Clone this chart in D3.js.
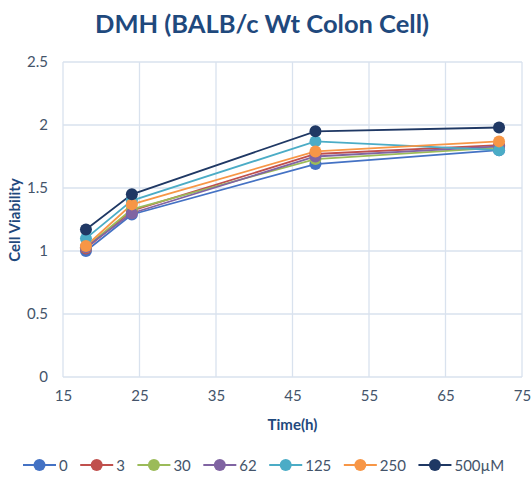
<!DOCTYPE html>
<html>
<head>
<meta charset="utf-8">
<script src="https://cdn.jsdelivr.net/npm/d3@7"></script>
<style>
  body { margin: 0; background: #fff; }
  svg { font-family: Lato, "Open Sans", sans-serif; }
</style>
</head>
<body>
<svg id="chart" width="531" height="485"></svg>
<script>
const times = [18, 24, 48, 72];
const seriesNames = ["0", "3", "30", "62", "125", "250", "500µM"];
const v0 = [1.00, 1.29, 1.69, 1.80];
const v3 = [1.02, 1.32, 1.77, 1.84];
const v30 = [1.03, 1.33, 1.73, 1.82];
const v62 = [1.03, 1.30, 1.75, 1.83];
const v125 = [1.10, 1.40, 1.87, 1.80];
const v250 = [1.04, 1.37, 1.79, 1.87];
const v500 = [1.17, 1.45, 1.95, 1.98];
const xTicks = [15, 25, 35, 45, 55, 65, 75];
const yTicks = [0, 0.5, 1, 1.5, 2, 2.5];
const colors = ["#4472C4", "#C0504D", "#9BBB59", "#8064A2", "#4BACC6", "#F79646", "#1F3864"];

const allValues = [v0, v3, v30, v62, v125, v250, v500];
const series = seriesNames.map((n, i) => ({
    name: n,
    color: colors[i],
    pts: times.map((t, j) => [t, allValues[i][j]])
}));

const svg = d3.select("#chart");
const pLeft = 63, pRight = 522, pTop = 62, pBottom = 377;

const x = d3.scaleLinear().domain([15, 75]).range([pLeft, pRight]);
const y = d3.scaleLinear().domain([0, 2.5]).range([pBottom, pTop]);

const textCol = "#44546A";
const navy = "#1F497D";

// title
svg.append("text")
    .attr("x", 262).attr("y", 33)
    .attr("text-anchor", "middle")
    .attr("font-size", 25.5).attr("font-weight", "bold")
    .attr("fill", navy)
    .text("DMH (BALB/c Wt Colon Cell)");

// grid
svg.append("g").selectAll("line").data(xTicks).join("line")
    .attr("x1", d => x(d)).attr("x2", d => x(d))
    .attr("y1", pTop).attr("y2", pBottom)
    .attr("stroke", "#D9E2EE").attr("stroke-width", 1.3);
svg.append("g").selectAll("line").data(yTicks).join("line")
    .attr("x1", pLeft).attr("x2", pRight)
    .attr("y1", d => y(d)).attr("y2", d => y(d))
    .attr("stroke", "#D9E2EE").attr("stroke-width", 1.3);

// axes labels
const xAxis = d3.axisBottom(x).tickValues(xTicks).tickSize(0).tickPadding(13);
const gx = svg.append("g").attr("transform", `translate(0,${pBottom})`).call(xAxis);
gx.select(".domain").remove();
gx.selectAll("text").attr("font-size", 15).attr("fill", textCol).attr("font-family", "Lato");

const yAxis = d3.axisLeft(y).tickValues(yTicks).tickSize(0).tickPadding(15).tickFormat(d3.format("~g"));
const gy = svg.append("g").attr("transform", `translate(${pLeft},0)`).call(yAxis);
gy.select(".domain").remove();
gy.selectAll("text").attr("font-size", 15).attr("fill", textCol).attr("font-family", "Lato");

svg.append("text")
    .attr("x", x(45)).attr("y", 430)
    .attr("text-anchor", "middle")
    .attr("font-size", 15).attr("font-weight", "bold").attr("fill", navy)
    .text("Time(h)");

svg.append("text")
    .attr("transform", `translate(20,220) rotate(-90)`)
    .attr("text-anchor", "middle")
    .attr("font-size", 15).attr("font-weight", "bold").attr("fill", navy)
    .text("Cell Viability");

// lines and markers
const line = d3.line().x(d => x(d[0])).y(d => y(d[1]));
const g = svg.append("g");
series.forEach(s => {
    g.append("path").attr("d", line(s.pts))
        .attr("fill", "none").attr("stroke", s.color).attr("stroke-width", 1.8);
});
series.forEach(s => {
    g.selectAll(null).data(s.pts).join("circle")
        .attr("cx", d => x(d[0])).attr("cy", d => y(d[1]))
        .attr("r", 6).attr("fill", s.color);
});

// legend
const legY = 465;
let lx = 23;
series.forEach(s => {
    const lg = svg.append("g").attr("transform", `translate(${lx},${legY})`);
    lg.append("line").attr("x1", 0).attr("x2", 33).attr("y1", 0).attr("y2", 0)
        .attr("stroke", s.color).attr("stroke-width", 1.8);
    lg.append("circle").attr("cx", 16.5).attr("cy", 0).attr("r", 6).attr("fill", s.color);
    const t = lg.append("text").attr("x", 36).attr("y", 5.5)
        .attr("font-size", 15).attr("fill", textCol)
        .text(s.name);
    lx += 36 + t.node().getComputedTextLength() + 12.5;
});
</script>
</body>
</html>
